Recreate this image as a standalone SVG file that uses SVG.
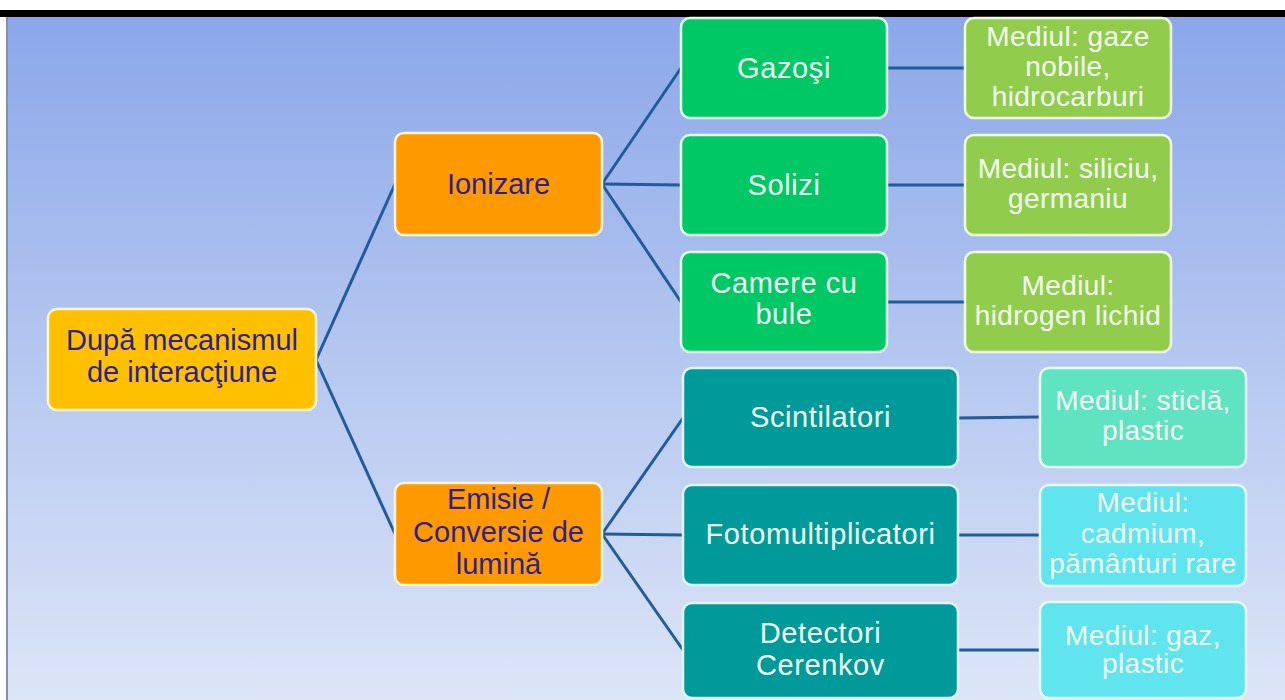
<svg xmlns="http://www.w3.org/2000/svg" width="1285" height="700" viewBox="0 0 1285 700">
<defs>
<linearGradient id="bg" x1="0" y1="0" x2="0" y2="1">
<stop offset="0" stop-color="#8BA7EA"/>
<stop offset="0.5" stop-color="#B5C7F0"/>
<stop offset="1" stop-color="#DDE5F7"/>
</linearGradient>
</defs>
<style>
.box{stroke-width:2.5}
.root{fill:#FFC000;stroke:#FFF6D6}
.or{fill:#FF9900;stroke:#FFF6D6}
.gr{fill:#00C864;stroke:#DFFFE6}
.lg{fill:#92CC4C;stroke:#EFFFE0}
.tl{fill:#009A9A;stroke:#DDF6F4}
.aq{fill:#5FE3C1;stroke:#E6FFF8}
.cy{fill:#60E4EE;stroke:#E6FCFF}
text{font-family:"Liberation Sans",Arial,sans-serif;text-anchor:middle;font-size:29px}
.dk{fill:#2E1F8F}
.lt{fill:#F2FFF2;letter-spacing:0.6px}
.sm{font-size:28px;letter-spacing:0.4px}
.con{stroke:#1F5C99;stroke-width:3;fill:none}
</style>
<rect x="0" y="0" width="1285" height="700" fill="#FFFFFF"/>
<rect x="8" y="17" width="1277" height="683" fill="url(#bg)"/>
<rect x="0" y="10" width="1285" height="7" fill="#000000"/>
<rect x="6" y="17" width="2" height="683" fill="#8592A8"/>

<g id="connectors" class="con">
<path d="M316 360 L395 184"/>
<path d="M316 360 L395 534"/>
<path d="M602 184 L681 68"/>
<path d="M602 184 L681 185"/>
<path d="M602 184 L681 302"/>
<path d="M887 68 L965 68"/>
<path d="M887 185 L965 185"/>
<path d="M887 302 L965 302"/>
<path d="M602 534 L683 418"/>
<path d="M602 534 L683 535"/>
<path d="M602 534 L683 650"/>
<path d="M958 418 L1040 417"/>
<path d="M958 535 L1040 535"/>
<path d="M958 650 L1040 650"/>
</g>

<g id="root">
<rect class="box root" x="48" y="309" width="268" height="101" rx="9"/>
<text class="dk" x="182" y="350">După mecanismul</text>
<text class="dk" x="182" y="382">de interacţiune</text>
</g>

<g id="ionizare">
<rect class="box or" x="395" y="133" width="207" height="102" rx="9"/>
<text class="dk" x="498.5" y="194">Ionizare</text>
</g>

<g id="emisie">
<rect class="box or" x="395" y="483" width="207" height="102" rx="9"/>
<text class="dk" x="498.5" y="509">Emisie /</text>
<text class="dk" x="498.5" y="542">Conversie de</text>
<text class="dk" x="498.5" y="574">lumină</text>
</g>

<g id="gazosi">
<rect class="box gr" x="681" y="18" width="206" height="100" rx="9"/>
<text class="lt" x="784" y="78">Gazoşi</text>
</g>
<g id="mediul-gaze">
<rect class="box lg" x="965" y="18" width="206" height="100" rx="9"/>
<text class="lt sm" x="1068" y="46">Mediul: gaze</text>
<text class="lt sm" x="1068" y="76">nobile,</text>
<text class="lt sm" x="1068" y="106">hidrocarburi</text>
</g>

<g id="solizi">
<rect class="box gr" x="681" y="135" width="206" height="100" rx="9"/>
<text class="lt" x="784" y="195">Solizi</text>
</g>
<g id="mediul-siliciu">
<rect class="box lg" x="965" y="135" width="206" height="100" rx="9"/>
<text class="lt sm" x="1068" y="178">Mediul: siliciu,</text>
<text class="lt sm" x="1068" y="208">germaniu</text>
</g>

<g id="camere">
<rect class="box gr" x="681" y="252" width="206" height="100" rx="9"/>
<text class="lt" x="784" y="293">Camere cu</text>
<text class="lt" x="784" y="324">bule</text>
</g>
<g id="mediul-hidrogen">
<rect class="box lg" x="965" y="252" width="206" height="100" rx="9"/>
<text class="lt sm" x="1068" y="295">Mediul:</text>
<text class="lt sm" x="1068" y="325">hidrogen lichid</text>
</g>

<g id="scintilatori">
<rect class="box tl" x="683" y="368" width="275" height="99" rx="9"/>
<text class="lt" x="820.5" y="427">Scintilatori</text>
</g>
<g id="mediul-sticla">
<rect class="box aq" x="1040" y="368" width="206" height="99" rx="9"/>
<text class="lt sm" x="1143" y="410">Mediul: sticlă,</text>
<text class="lt sm" x="1143" y="440">plastic</text>
</g>

<g id="fotomultiplicatori">
<rect class="box tl" x="683" y="485" width="275" height="100" rx="9"/>
<text class="lt" x="820.5" y="544">Fotomultiplicatori</text>
</g>
<g id="mediul-cadmium">
<rect class="box cy" x="1040" y="485" width="206" height="101" rx="9"/>
<text class="lt sm" x="1143" y="512">Mediul:</text>
<text class="lt sm" x="1143" y="543">cadmium,</text>
<text class="lt sm" x="1143" y="573">pământuri rare</text>
</g>

<g id="detectori">
<rect class="box tl" x="683" y="603" width="275" height="95" rx="9"/>
<text class="lt" x="820.5" y="643">Detectori</text>
<text class="lt" x="820.5" y="675">Cerenkov</text>
</g>
<g id="mediul-gaz">
<rect class="box cy" x="1040" y="602" width="206" height="96" rx="9"/>
<text class="lt sm" x="1143" y="645">Mediul: gaz,</text>
<text class="lt sm" x="1143" y="673">plastic</text>
</g>
</svg>
